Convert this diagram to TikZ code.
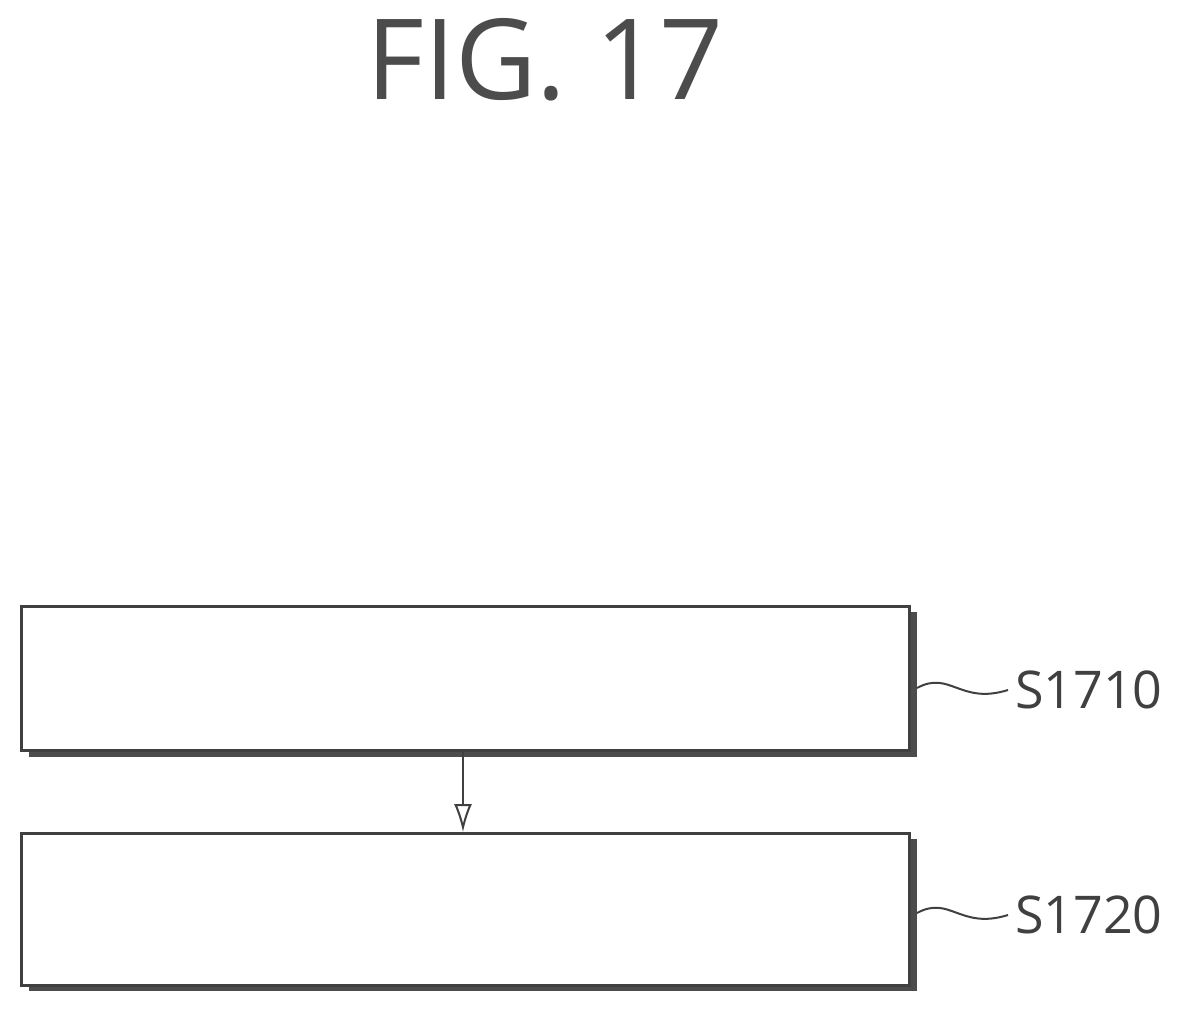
\documentclass[tikz,border=0pt]{standalone}
\usepackage{fontspec}
\usetikzlibrary{arrows.meta}
\setmainfont{Open Sans}
\begin{document}
\begin{tikzpicture}[x=0.5pt,y=-0.5pt,
  box/.style={draw=black!75,line width=1.5pt,fill=white,minimum width=444pt,minimum height=72pt,inner sep=0pt},
  shad/.style={fill=black!70},
  lab/.style={font=\fontsize{26}{30}\selectfont,text=black!75,anchor=west},
  conn/.style={draw=black!75,line width=1pt}]
\useasboundingbox (0,0) rectangle (1178,1010);
\node[font=\fontsize{56}{60}\selectfont,text=black!70] (title) at (545,60) {FIG. 17};
\fill[shad] (29,612) rectangle (917,757);
\node[box,anchor=north west] (b1) at (20,605) {};
\fill[shad] (29,839) rectangle (917,991);
\node[box,anchor=north west,minimum height=76pt] (b2) at (20,832) {};
\draw[conn,-{Latex[length=14pt,width=9pt,open]}] (463,750) -- (463,832);
\node[lab] (l1) at (1008,690) {S1710};
\node[lab] (l2) at (1008,915) {S1720};
\draw[conn] (917,688) .. controls (950,670) and (960,705) .. (l1.west);
\draw[conn] (917,913) .. controls (950,895) and (960,930) .. (l2.west);
\end{tikzpicture}
\end{document}
